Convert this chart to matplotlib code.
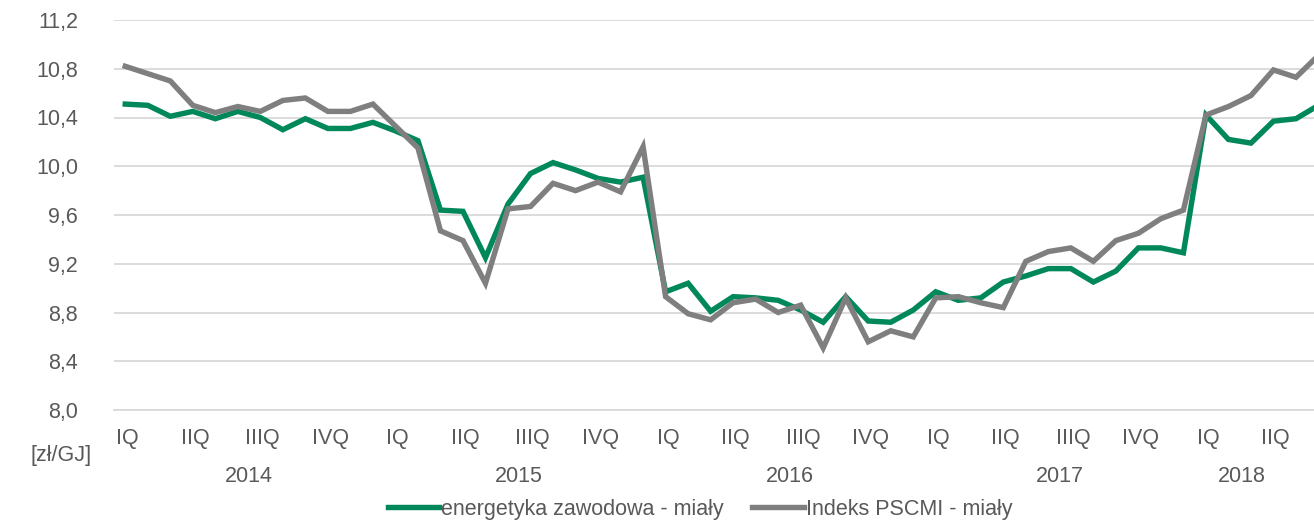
import numpy as np
import matplotlib
matplotlib.use('Agg')
import matplotlib.pyplot as plt
from matplotlib.transforms import blended_transform_factory

# monthly data, Jan 2014 .. Jun 2018 [zł/GJ]
energetyka = [10.51, 10.50, 10.41, 10.45, 10.39, 10.45, 10.40, 10.30, 10.39, 10.31, 10.31, 10.36,
              10.29, 10.21, 9.64, 9.63, 9.25, 9.69, 9.94, 10.03, 9.97, 9.90, 9.87, 9.91,
              8.97, 9.04, 8.81, 8.93, 8.92, 8.90, 8.82, 8.72, 8.93, 8.73, 8.72, 8.82,
              8.97, 8.90, 8.92, 9.05, 9.10, 9.16, 9.16, 9.05, 9.14, 9.33, 9.33, 9.29,
              10.42, 10.22, 10.19, 10.37, 10.39, 10.50]
pscmi = [10.82, 10.76, 10.70, 10.50, 10.44, 10.49, 10.45, 10.54, 10.56, 10.45, 10.45, 10.51,
         10.33, 10.15, 9.47, 9.39, 9.04, 9.65, 9.67, 9.86, 9.80, 9.87, 9.79, 10.16,
         8.93, 8.79, 8.74, 8.88, 8.91, 8.80, 8.86, 8.51, 8.92, 8.56, 8.65, 8.60,
         8.92, 8.93, 8.88, 8.84, 9.22, 9.30, 9.33, 9.22, 9.39, 9.45, 9.57, 9.64,
         10.42, 10.49, 10.58, 10.79, 10.73, 10.91]
quarters = ['IQ', 'IIQ', 'IIIQ', 'IVQ']
years = ['2014', '2015', '2016', '2017', '2018']
yticks = [8.0, 8.4, 8.8, 9.2, 9.6, 10.0, 10.4, 10.8, 11.2]

GREEN = '#00885A'
GRAY = '#7F7F7F'
TXT = '#595959'
plt.rcParams['font.family'] = ['Liberation Sans', 'DejaVu Sans']
FS = 15.5

fig = plt.figure(figsize=(13.14, 5.2), dpi=100)
ax = fig.add_axes([114 / 1314, 110 / 520, 1200 / 1314, 390 / 520])

x = np.arange(len(energetyka))
ax.plot(x, energetyka, color=GREEN, lw=3.9, solid_joinstyle='miter', label='energetyka zawodowa - miały', zorder=3)
ax.plot(x, pscmi, color=GRAY, lw=3.9, solid_joinstyle='miter', label='Indeks PSCMI - miały', zorder=3)

ax.set_xlim(-0.5, 52.8)
ax.set_ylim(8.0, 11.2)
ax.set_yticks(yticks)
ax.set_yticklabels([f'{v:.1f}'.replace('.', ',') for v in yticks])
ax.yaxis.grid(True, color='#D9D9D9', lw=1.3)
ax.set_axisbelow(True)
for s in ['top', 'right', 'left']:
    ax.spines[s].set_visible(False)
ax.spines['bottom'].set_color('#D9D9D9')
ax.spines['bottom'].set_linewidth(1.3)

qpos = np.arange(0, len(x), 3) + 0.1
ax.set_xticks(qpos)
ax.set_xticklabels([quarters[i % 4] for i in range(len(qpos))])
ax.tick_params(axis='both', length=0, labelsize=FS, labelcolor=TXT)
ax.tick_params(axis='x', pad=13)
ax.tick_params(axis='y', pad=26)

tr = blended_transform_factory(ax.transData, fig.transFigure)
for k, yr in enumerate(years):
    idx = [i for i in range(len(x)) if i // 12 == k]
    cx = (idx[0] + idx[-1]) / 2 if len(idx) == 12 else idx[0] + 1.6
    ax.text(cx, 1 - 476 / 520, yr, transform=tr, ha='center', va='center', fontsize=FS, color=TXT)
fig.text(92 / 1314, 1 - 456 / 520, '[zł/GJ]', ha='right', va='center', fontsize=FS, color=TXT)

fig.legend(loc='center', bbox_to_anchor=(700 / 1314, 1 - 509 / 520), ncol=2, frameon=False,
           fontsize=FS, labelcolor=TXT, handlelength=2.4, handletextpad=0.1, columnspacing=1.3,
           borderpad=0, borderaxespad=0)

fig.savefig('out.png', dpi=100)
